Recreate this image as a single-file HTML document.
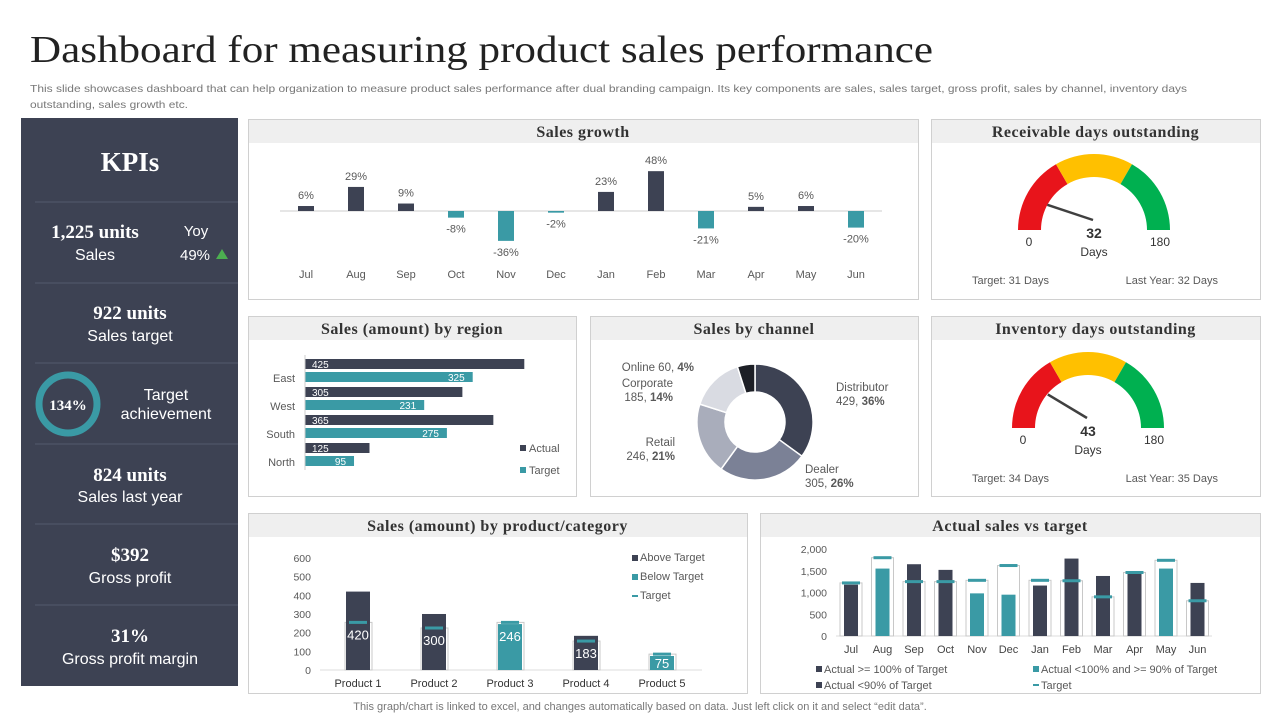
<!DOCTYPE html>
<html><head><meta charset="utf-8">
<style>
body{margin:0;background:#fff;width:1280px;height:720px;overflow:hidden;font-family:"Liberation Sans",sans-serif}
svg text{font-family:"Liberation Sans",sans-serif}
svg text.ser{font-family:"Liberation Serif",serif}
</style></head><body>
<svg id="s" width="1280" height="720" viewBox="0 0 1280 720" xmlns="http://www.w3.org/2000/svg">
<text class="ser" x="30" y="62" font-size="38" fill="#222" textLength="903" lengthAdjust="spacingAndGlyphs">Dashboard for measuring product sales performance</text>
<text x="30" y="92" font-size="10.5" fill="#777" textLength="1157" lengthAdjust="spacingAndGlyphs">This slide showcases dashboard that can help organization to measure product sales performance after dual branding campaign. Its key components are sales, sales target, gross profit, sales by channel, inventory days</text>
<text x="30" y="108" font-size="10.5" fill="#777" textLength="158" lengthAdjust="spacingAndGlyphs">outstanding, sales growth etc.</text>

<g>
<rect x="21" y="118" width="217" height="568" fill="#3d4253"/>
<text class="ser" x="130" y="171" font-size="27" font-weight="bold" fill="#fff" text-anchor="middle">KPIs</text>
<g stroke="#535a6c" stroke-width="1">
<line x1="35" y1="202" x2="238" y2="202"/><line x1="35" y1="283" x2="238" y2="283"/><line x1="35" y1="363" x2="238" y2="363"/><line x1="35" y1="444" x2="238" y2="444"/><line x1="35" y1="524" x2="238" y2="524"/><line x1="35" y1="605" x2="238" y2="605"/></g>
<text class="ser" x="95" y="238" font-size="19" font-weight="bold" fill="#fff" text-anchor="middle">1,225 units</text>
<text x="95" y="260" font-size="16" fill="#fff" text-anchor="middle">Sales</text>
<text x="196" y="236" font-size="15" fill="#fff" text-anchor="middle">Yoy</text>
<text x="195" y="260" font-size="15" fill="#fff" text-anchor="middle">49%</text>
<polygon points="216,259 228,259 222,249" fill="#4caf50"/>
<text class="ser" x="130" y="319" font-size="19" font-weight="bold" fill="#fff" text-anchor="middle">922 units</text>
<text x="130" y="341" font-size="16" fill="#fff" text-anchor="middle">Sales target</text>
<circle cx="68" cy="404" r="29" fill="none" stroke="#3a9aa5" stroke-width="7"/>
<text class="ser" x="68" y="410" font-size="15" font-weight="bold" fill="#fff" text-anchor="middle">134%</text>
<text x="166" y="400" font-size="16" fill="#fff" text-anchor="middle">Target</text>
<text x="166" y="419" font-size="16" fill="#fff" text-anchor="middle">achievement</text>
<text class="ser" x="130" y="481" font-size="19" font-weight="bold" fill="#fff" text-anchor="middle">824 units</text>
<text x="130" y="502" font-size="16" fill="#fff" text-anchor="middle">Sales last year</text>
<text class="ser" x="130" y="561" font-size="19" font-weight="bold" fill="#fff" text-anchor="middle">$392</text>
<text x="130" y="583" font-size="16" fill="#fff" text-anchor="middle">Gross profit</text>
<text class="ser" x="130" y="642" font-size="19" font-weight="bold" fill="#fff" text-anchor="middle">31%</text>
<text x="130" y="664" font-size="16" fill="#fff" text-anchor="middle">Gross profit margin</text>
</g>

<g id="panels"></g>
<g id="charts"></g>
<text x="640" y="710" font-size="11" fill="#777" text-anchor="middle">This graph/chart is linked to excel, and changes automatically based on data. Just left click on it and select “edit data”.</text>
</svg>
<script>
const growthMonths=['Jul','Aug','Sep','Oct','Nov','Dec','Jan','Feb','Mar','Apr','May','Jun'];
const growthValues=[6,29,9,-8,-36,-2,23,48,-21,5,6,-20];
const regionNames=['East','West','South','North'];
const regionActual=[425,305,365,125];
const regionTarget=[325,231,275,95];
const channelNames=['Distributor','Dealer','Retail','Corporate','Online'];
const channelValues=[429,305,246,185,60];
const channelPct=['36%','26%','21%','14%','4%'];
const productNames=['Product 1','Product 2','Product 3','Product 4','Product 5'];
const productActual=[420,300,246,183,75];
const productTarget=[255,225,255,155,85];
const productTicks=[0,100,200,300,400,500,600];
const avtMonths=['Jul','Aug','Sep','Oct','Nov','Dec','Jan','Feb','Mar','Apr','May','Jun'];
const avtActual=[1180,1550,1650,1520,980,950,1160,1780,1380,1440,1550,1220];
const avtTarget=[1220,1800,1250,1250,1280,1620,1280,1270,900,1460,1740,810];
const avtTicks=[0,500,1000,1500,2000];
const gaugeValues=[32,43];

const NS='http://www.w3.org/2000/svg';
function mk(parent,tag,attrs,txt){const e=document.createElementNS(NS,tag);for(const k in attrs)e.setAttribute(k,attrs[k]);if(txt!==undefined)e.textContent=txt;parent.appendChild(e);return e;}
const P=document.getElementById('panels'),C=document.getElementById('charts');
const DARK='#3d4253',TEAL='#3a9aa5',GR='#595959';

[['Sales growth',248,119,670],['Receivable days outstanding',931,119,329],['Sales (amount) by region',248,316,328],['Sales by channel',590,316,328],['Inventory days outstanding',931,316,329],['Sales (amount) by product/category',248,513,499],['Actual sales vs target',760,513,500]].forEach(p=>{
 const g=mk(P,'g',{});
 
 
 mk(g,'rect',{x:p[1]+.5,y:p[2]+.5,width:p[3],height:180,fill:'#fff',stroke:'#d0d0d0'});
 mk(g,'rect',{x:p[1]+1,y:p[2]+1,width:p[3]-1,height:23,fill:'#efefef'});
 mk(g,'text',{x:p[1]+p[3]/2,y:p[2]+18,'font-size':16,'font-weight':'bold',fill:'#333','text-anchor':'middle','class':'ser','letter-spacing':0.5},p[0]);
});

(function(){const x=i=>306+i*50,y=v=>211-v*0.83;
 mk(C,'line',{x1:280,y1:211,x2:882,y2:211,stroke:'#ccc'});
 growthValues.forEach((v,i)=>{
  const b=mk(C,'rect',{x:x(i)-8,y:Math.min(y(v),211),width:16,height:Math.abs(y(v)-211),fill:v>=0?DARK:TEAL});
  
  
  mk(C,'text',{x:x(i),y:v>=0?y(v)-7:y(v)+15,'font-size':11,fill:GR,'text-anchor':'middle'},v+'%');
  mk(C,'text',{x:x(i),y:278,'font-size':11,fill:GR,'text-anchor':'middle'},growthMonths[i]);
 });})();

(function(){const x=v=>305+v*0.516,y0=i=>359+i*28;
 regionNames.forEach((n,i)=>{
  mk(C,'text',{x:295,y:y0(i)+23,'font-size':11,fill:GR,'text-anchor':'end'},n);
  const a=mk(C,'rect',{x:305,y:y0(i),width:x(regionActual[i])-305,height:10,fill:DARK});
  
  
  mk(C,'text',{x:312,y:y0(i)+9,'font-size':10,fill:'#fff'},regionActual[i]);
  const t=mk(C,'rect',{x:305,y:y0(i)+13,width:x(regionTarget[i])-305,height:10,fill:TEAL});
  
  
  mk(C,'text',{x:x(regionTarget[i])-8,y:y0(i)+22,'font-size':10,fill:'#fff','text-anchor':'end'},regionTarget[i]);
 });
 mk(C,'line',{x1:305,y1:355,x2:305,y2:470,stroke:'#ccc'});
 mk(C,'rect',{x:520,y:445,width:6,height:6,fill:DARK});mk(C,'text',{x:529,y:452,'font-size':11,fill:GR},'Actual');
 mk(C,'rect',{x:520,y:467,width:6,height:6,fill:TEAL});mk(C,'text',{x:529,y:474,'font-size':11,fill:GR},'Target');
})();

(function(){const cx=755,cy=422,R=58,r=30,cols=[DARK,'#7b8196','#a9adbb','#d9dbe2','#1d1f26'];
 const tot=channelValues.reduce((a,b)=>a+b,0);let a0=-Math.PI/2;
 channelValues.forEach((v,i)=>{const a1=a0+v/tot*2*Math.PI,l=(a1-a0)>Math.PI?1:0;
  const p=(rr,a)=>(cx+rr*Math.cos(a)).toFixed(1)+' '+(cy+rr*Math.sin(a)).toFixed(1);
  const s=mk(C,'path',{d:`M${p(R,a0)} A${R} ${R} 0 ${l} 1 ${p(R,a1)} L${p(r,a1)} A${r} ${r} 0 ${l} 0 ${p(r,a0)} Z`,fill:cols[i],stroke:'#fff','stroke-width':1.5});
  
  
  a0=a1;});
 const lab=(x,y,anc,l1,l2)=>{mk(C,'text',{x:x,y:y,'font-size':11.5,fill:GR,'text-anchor':anc},l1);if(l2){const t2=mk(C,'text',{x:x,y:y+14,'font-size':11.5,fill:GR,'text-anchor':anc});t2.textContent=l2[0];mk(t2,'tspan',{'font-weight':'bold'},l2[1]);}};
 const t=mk(C,'text',{x:694,y:371,'font-size':11.5,fill:GR,'text-anchor':'end'},'Online '+channelValues[4]+', ');mk(t,'tspan',{'font-weight':'bold'},channelPct[4]);
 lab(673,387,'end','Corporate',[channelValues[3]+', ',channelPct[3]]);
 lab(675,446,'end','Retail',[channelValues[2]+', ',channelPct[2]]);
 lab(836,391,'start','Distributor',[channelValues[0]+', ',channelPct[0]]);
 lab(805,473,'start','Dealer',[channelValues[1]+', ',channelPct[1]]);
})();

[[1094,230,0,'Target: 31 Days','Last Year: 32 Days','receivable'],[1088,428,1,'Target: 34 Days','Last Year: 35 Days','inventory']].forEach(g=>{
 const [cx,cy,k]=g,R=76,r=53,cols=['#e8141b','#ffc000','#00b050'];
 const p=(rr,a)=>(cx+rr*Math.cos(a)).toFixed(1)+' '+(cy-rr*Math.sin(a)).toFixed(1);
 for(let i=0;i<3;i++){const a0=Math.PI-i*Math.PI/3,a1=a0-Math.PI/3;
  mk(C,'path',{d:`M${p(R,a0)} A${R} ${R} 0 0 1 ${p(R,a1)} L${p(r,a1)} A${r} ${r} 0 0 0 ${p(r,a0)} Z`,fill:cols[i]});}
 const v=gaugeValues[k],a=Math.PI-v/180*Math.PI;
 const n=mk(C,'line',{x1:cx-1,y1:cy-10,x2:cx+(r+2)*Math.cos(a),y2:cy-(r+2)*Math.sin(a)+4,stroke:'#404040','stroke-width':2.5});
 
 
 mk(C,'text',{x:cx-65,y:cy+16,'font-size':12,fill:'#333','text-anchor':'middle'},'0');
 mk(C,'text',{x:cx+66,y:cy+16,'font-size':12,fill:'#333','text-anchor':'middle'},'180');
 mk(C,'text',{x:cx,y:cy+8,'font-size':14,'font-weight':'bold',fill:'#333','text-anchor':'middle'},v);
 mk(C,'text',{x:cx,y:cy+26,'font-size':12,fill:'#333','text-anchor':'middle'},'Days');
 mk(C,'text',{x:972,y:cy+54,'font-size':11,fill:GR},g[3]);
 mk(C,'text',{x:1218,y:cy+54,'font-size':11,fill:GR,'text-anchor':'end'},g[4]);
});

(function(){const y=v=>670-v*0.1867,x=i=>358+i*76;
 productTicks.forEach(t=>mk(C,'text',{x:311,y:y(t)+4,'font-size':10.5,fill:GR,'text-anchor':'end'},t));
 mk(C,'line',{x1:320,y1:670,x2:702,y2:670,stroke:'#ddd'});
 productNames.forEach((n,i)=>{
  mk(C,'rect',{x:x(i)-13,y:y(productTarget[i]),width:27,height:670-y(productTarget[i]),fill:'none',stroke:'#c8c8c8'});
  const b=mk(C,'rect',{x:x(i)-12,y:y(productActual[i]),width:24,height:670-y(productActual[i]),fill:productActual[i]>=productTarget[i]?DARK:TEAL});
  
  
  mk(C,'rect',{x:x(i)-9,y:y(productTarget[i])-1.5,width:18,height:3,fill:TEAL});
  const ly=Math.min(y(Math.min(productActual[i],productTarget[i]))+17,668);
  mk(C,'text',{x:x(i),y:ly,'font-size':13,fill:'#fff','text-anchor':'middle'},productActual[i]);
  mk(C,'text',{x:x(i),y:687,'font-size':11,fill:'#333','text-anchor':'middle'},n);
 });
 [['Above Target',DARK,561],['Below Target',TEAL,580]].forEach(l=>{mk(C,'rect',{x:632,y:l[2]-6,width:6,height:6,fill:l[1]});mk(C,'text',{x:640,y:l[2],'font-size':11,fill:GR},l[0]);});
 mk(C,'rect',{x:632,y:595,width:6,height:2,fill:TEAL});mk(C,'text',{x:640,y:599,'font-size':11,fill:GR},'Target');
})();

(function(){const y=v=>636-v*0.0435,x=i=>851+i*31.5;
 avtTicks.forEach(t=>mk(C,'text',{x:827,y:y(t)+4,'font-size':10.5,fill:GR,'text-anchor':'end'},t.toLocaleString('en-US')));
 mk(C,'line',{x1:836,y1:636,x2:1212,y2:636,stroke:'#ddd'});
 avtMonths.forEach((m,i)=>{
  mk(C,'rect',{x:x(i)-11,y:y(avtTarget[i]),width:22,height:636-y(avtTarget[i]),fill:'none',stroke:'#c8c8c8'});
  const b=mk(C,'rect',{x:x(i)-7,y:y(avtActual[i]),width:14,height:636-y(avtActual[i]),fill:avtActual[i]/avtTarget[i]>=0.9?DARK:TEAL});
  
  
  mk(C,'rect',{x:x(i)-9,y:y(avtTarget[i])-1.5,width:18,height:3,fill:TEAL});
  mk(C,'text',{x:x(i),y:653,'font-size':11,fill:'#444','text-anchor':'middle'},m);
 });
 [['Actual >= 100% of Target',DARK,816,673],['Actual <100% and >= 90% of Target',TEAL,1033,673],['Actual <90% of Target',DARK,816,689]].forEach(l=>{mk(C,'rect',{x:l[2],y:l[3]-7,width:6,height:6,fill:l[1]});mk(C,'text',{x:l[2]+8,y:l[3],'font-size':11,fill:GR},l[0]);});
 mk(C,'rect',{x:1033,y:684,width:6,height:2,fill:TEAL});mk(C,'text',{x:1041,y:689,'font-size':11,fill:GR},'Target');
})();
</script>
</body></html>
